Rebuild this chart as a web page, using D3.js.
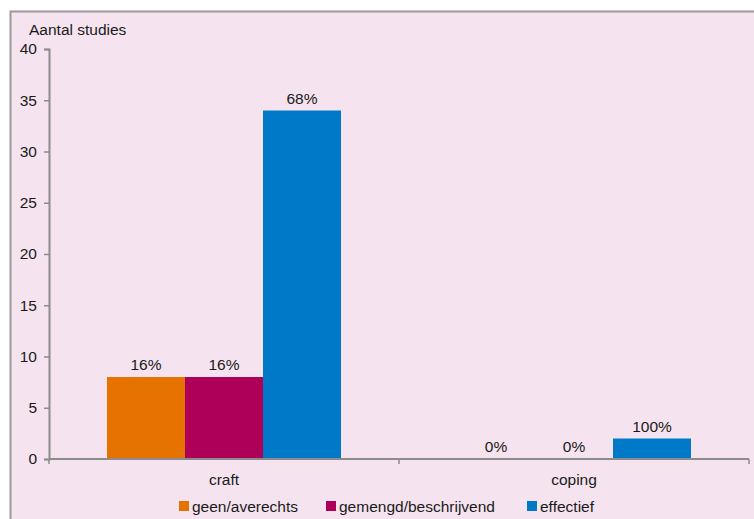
<!DOCTYPE html>
<html>
<head>
<meta charset="utf-8">
<script src="https://cdn.jsdelivr.net/npm/d3@7"></script>
<style>
  html, body { margin: 0; padding: 0; background: #ffffff; }
  svg { display: block; font-family: "Liberation Sans", Arial, sans-serif; }
</style>
</head>
<body>
<svg id="chart" width="754" height="519"></svg>
<script>
// Number of studies per intervention type, split by outcome
const categories = ["craft", "coping"];
const seriesNames = ["geen/averechts", "gemengd/beschrijvend", "effectief"];
const seriesColors = ["#e67300", "#ae0058", "#0079c8"];
const valuesGeen = [8, 0];
const valuesGemengd = [8, 0];
const valuesEffectief = [34, 2];
const pctGeen = ["16%", "0%"];
const pctGemengd = ["16%", "0%"];
const pctEffectief = ["68%", "100%"];
const yTicks = [0, 5, 10, 15, 20, 25, 30, 35, 40];

const seriesValues = [valuesGeen, valuesGemengd, valuesEffectief];
const seriesLabels = [pctGeen, pctGemengd, pctEffectief];

const svg = d3.select("#chart");
const axisColor = "#8c8c8c";
const fontSize = 15.5;
const textColor = "#1a1a1a";

// chart frame
svg.append("rect")
  .attr("x", 10.5).attr("y", 11.5)
  .attr("width", 760).attr("height", 520)
  .attr("fill", "#f5e4ef")
  .attr("stroke", "#999999").attr("stroke-width", 2);

const plot = { left: 49, right: 749, top: 49, bottom: 459 };

const y = d3.scaleLinear().domain([0, 40]).range([plot.bottom, plot.top]);
const x0 = d3.scaleBand().domain(categories).range([plot.left, plot.right]).paddingInner(0).paddingOuter(0);
const bandInner = 234;
const x1 = d3.scaleBand().domain(seriesNames.map((_, i) => i))
  .range([(x0.bandwidth() - bandInner) / 2, (x0.bandwidth() + bandInner) / 2]);

// bars with percentage labels
const groups = svg.append("g").selectAll("g")
  .data(categories).join("g")
  .attr("transform", d => `translate(${x0(d)},0)`);

groups.each(function (cat, ci) {
  const g = d3.select(this);
  seriesNames.forEach((name, si) => {
    const v = seriesValues[si][ci];
    g.append("rect")
      .attr("x", x1(si)).attr("width", x1.bandwidth())
      .attr("y", y(v)).attr("height", y(0) - y(v))
      .attr("fill", seriesColors[si]);
    g.append("text")
      .attr("x", x1(si) + x1.bandwidth() / 2)
      .attr("y", y(v) - 7)
      .attr("text-anchor", "middle")
      .attr("font-size", fontSize).attr("fill", textColor)
      .text(seriesLabels[si][ci]);
  });
});

// y axis
const yAxis = svg.append("g")
  .attr("transform", `translate(${plot.left},0)`)
  .call(d3.axisLeft(y).tickValues(yTicks).tickSize(5).tickPadding(7));
yAxis.select(".domain").attr("stroke", axisColor).attr("stroke-width", 2);
yAxis.selectAll(".tick line").attr("stroke", axisColor).attr("stroke-width", 1.5);
yAxis.selectAll(".tick text").attr("font-size", fontSize).attr("fill", textColor)
  .attr("font-family", "Liberation Sans, Arial, sans-serif");

// x axis
const xAxis = svg.append("g")
  .attr("transform", `translate(0,${plot.bottom})`)
  .call(d3.axisBottom(x0).tickSize(0).tickPadding(15));
xAxis.select(".domain").remove();
svg.append("line")
  .attr("x1", plot.left).attr("x2", plot.right)
  .attr("y1", plot.bottom).attr("y2", plot.bottom)
  .attr("stroke", axisColor).attr("stroke-width", 2);
const boundaries = [plot.left, x0("coping"), plot.right];
svg.append("g").selectAll("line").data(boundaries).join("line")
  .attr("x1", d => d).attr("x2", d => d)
  .attr("y1", plot.bottom).attr("y2", plot.bottom + 5)
  .attr("stroke", axisColor).attr("stroke-width", 1.5);
xAxis.selectAll(".tick text").attr("font-size", fontSize).attr("fill", textColor)
  .attr("font-family", "Liberation Sans, Arial, sans-serif");

// y axis title
svg.append("text")
  .attr("x", 29).attr("y", 35)
  .attr("font-size", fontSize).attr("fill", textColor)
  .text("Aantal studies");

// legend
const legendX = [179, 326, 527];
const legend = svg.append("g").selectAll("g")
  .data(seriesNames).join("g")
  .attr("transform", (d, i) => `translate(${legendX[i]},501)`);
legend.append("rect")
  .attr("width", 10).attr("height", 10)
  .attr("fill", (d, i) => seriesColors[i]);
legend.append("text")
  .attr("x", 13).attr("y", 10.5)
  .attr("font-size", fontSize).attr("fill", textColor)
  .text(d => d);
</script>
</body>
</html>
